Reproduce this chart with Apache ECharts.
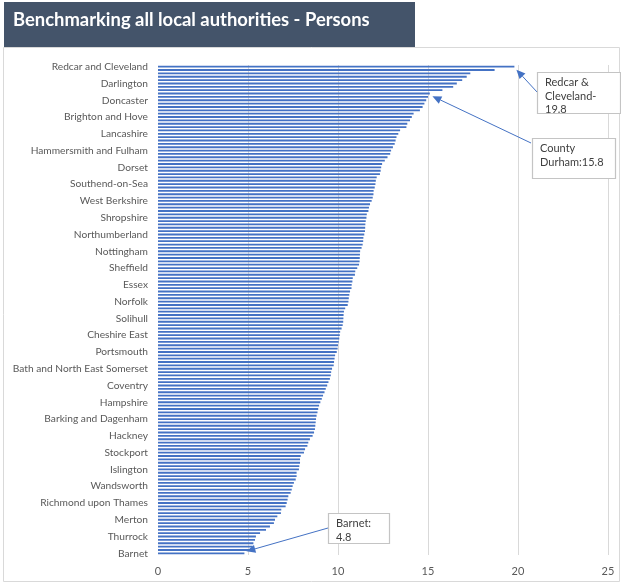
<!DOCTYPE html>
<html>
<head>
<meta charset="utf-8">
<script src="https://cdn.jsdelivr.net/npm/echarts@6/dist/echarts.min.js"></script>
<style>
  html, body { margin: 0; padding: 0; background: #ffffff; }
  #chart { width: 621px; height: 583px; }
</style>
</head>
<body>
<div id="chart"></div>
<script>
// Authorities whose names appear on the axis (every fifth rank, highest first)
const labelledAuthorities = [
  'Redcar and Cleveland', 'Darlington', 'Doncaster', 'Brighton and Hove', 'Lancashire',
  'Hammersmith and Fulham', 'Dorset', 'Southend-on-Sea', 'West Berkshire', 'Shropshire',
  'Northumberland', 'Nottingham', 'Sheffield', 'Essex', 'Norfolk',
  'Solihull', 'Cheshire East', 'Portsmouth', 'Bath and North East Somerset', 'Coventry',
  'Hampshire', 'Barking and Dagenham', 'Hackney', 'Stockport', 'Islington',
  'Wandsworth', 'Richmond upon Thames', 'Merton', 'Thurrock', 'Barnet'
];
const labelEvery = 5;

// Rate per authority, ranked from highest to lowest
const rates = [
  19.8, 18.7, 17.35, 17.15, 16.9, 16.6, 16.4, 15.8, 15.1, 15.0,
  14.9, 14.8, 14.7, 14.55, 14.2, 14.1, 14.0, 13.85, 13.8, 13.45,
  13.35, 13.25, 13.2, 13.15, 13.05, 12.95, 12.9, 12.75, 12.6, 12.45,
  12.4, 12.37, 12.33, 12.15, 12.1, 12.08, 12.04, 11.98, 11.97, 11.93,
  11.87, 11.78, 11.72, 11.69, 11.6, 11.58, 11.54, 11.52, 11.51, 11.5,
  11.46, 11.41, 11.4, 11.37, 11.31, 11.23, 11.22, 11.21, 11.2, 11.17,
  11.07, 10.96, 10.94, 10.82, 10.8, 10.76, 10.75, 10.67, 10.63, 10.6,
  10.58, 10.54, 10.4, 10.33, 10.31, 10.3, 10.29, 10.26, 10.2, 10.12,
  10.1, 10.07, 10.04, 10.0, 9.98, 9.93, 9.84, 9.81, 9.78, 9.76,
  9.67, 9.62, 9.6, 9.55, 9.47, 9.4, 9.32, 9.25, 9.17, 9.1,
  9.02, 8.95, 8.9, 8.86, 8.81, 8.78, 8.76, 8.74, 8.72, 8.67,
  8.59, 8.44, 8.35, 8.3, 8.17, 8.11, 7.93, 7.89, 7.89, 7.85,
  7.83, 7.7, 7.7, 7.65, 7.55, 7.48, 7.43, 7.37, 7.24, 7.2,
  7.15, 7.09, 6.85, 6.83, 6.63, 6.5, 6.44, 6.22, 6.0, 5.67,
  5.44, 5.39, 5.3, 5.26, 5.2, 4.8
];

// Value axis ticks
const xTicks = [0, 5, 10, 15, 20, 25];

// Callouts: text lines and the ranked authority they point at
const callouts = [
  { lines: ['Redcar &', 'Cleveland-', '19.8'], rank: 0,   box: [537, 72, 83, 41],  from: [537, 92],  nudge: [2, 3] },
  { lines: ['County', 'Durham:15.8'],          rank: 7,   box: [532, 138, 83, 40], from: [531, 143], nudge: [-10, 6] },
  { lines: ['Barnet:', '4.8'],                 rank: 145, box: [328, 513, 61, 30], from: [328, 528], nudge: [2, -2] }
];

const categories = rates.map((_, i) =>
  i % labelEvery === 0 ? labelledAuthorities[i / labelEvery] : ''
);

const FONT = 'Lato';
const chart = echarts.init(document.getElementById('chart'), null, { renderer: 'canvas' });

const option = {
  backgroundColor: '#ffffff',
  animation: false,
  grid: { left: 158, right: 13, top: 65, bottom: 28, containLabel: false },
  xAxis: {
    type: 'value',
    min: xTicks[0],
    max: xTicks[xTicks.length - 1],
    interval: xTicks[1] - xTicks[0],
    axisLine: { show: false },
    axisTick: { show: false },
    axisLabel: { color: '#595959', fontFamily: FONT, fontSize: 11, margin: 11 },
    splitLine: { show: true, showMinLine: false, lineStyle: { color: '#d9d9d9', width: 1 } }
  },
  yAxis: {
    type: 'category',
    inverse: true,
    data: categories,
    axisLine: { show: false },
    axisTick: { show: false },
    axisLabel: {
      interval: labelEvery - 1,
      color: '#595959',
      fontFamily: FONT,
      fontSize: 10.2,
      margin: 10
    }
  },
  series: [{
    type: 'bar',
    data: rates,
    barCategoryGap: '45%',
    itemStyle: { color: '#4472C4' },
    silent: true
  }]
};
chart.setOption(option);

// Frame and title banner
const graphics = [
  {
    type: 'rect', silent: true, z: 0,
    shape: { x: 3.5, y: 47.5, width: 616, height: 534 },
    style: { fill: null, stroke: '#d9d9d9', lineWidth: 1 }
  },
  {
    type: 'rect', silent: true, z: 10,
    shape: { x: 4, y: 2, width: 411, height: 45 },
    style: { fill: '#44546A' }
  },
  {
    type: 'text', silent: true, z: 11,
    x: 13, y: 20,
    style: {
      text: 'Benchmarking all local authorities - Persons',
      fill: '#ffffff',
      font: 'bold 18.4px ' + FONT,
      textVerticalAlign: 'middle'
    }
  }
];

// Callout boxes with arrows to the bar ends
callouts.forEach(c => {
  const end = chart.convertToPixel({ gridIndex: 0 }, [rates[c.rank], c.rank]);
  const tip = [end[0] + c.nudge[0], end[1] + c.nudge[1]];
  const [fx, fy] = c.from;
  const ang = Math.atan2(tip[1] - fy, tip[0] - fx);
  const len = 9, half = 4;
  const base = [tip[0] - len * Math.cos(ang), tip[1] - len * Math.sin(ang)];
  const perp = [-Math.sin(ang) * half, Math.cos(ang) * half];

  graphics.push({
    type: 'line', silent: true, z: 20,
    shape: { x1: fx, y1: fy, x2: base[0], y2: base[1] },
    style: { stroke: '#4472C4', lineWidth: 1 }
  });
  graphics.push({
    type: 'polygon', silent: true, z: 20,
    shape: { points: [tip, [base[0] + perp[0], base[1] + perp[1]], [base[0] - perp[0], base[1] - perp[1]]] },
    style: { fill: '#4472C4' }
  });
  const [bx, by, bw, bh] = c.box;
  graphics.push({
    type: 'rect', silent: true, z: 21,
    shape: { x: bx + 0.5, y: by + 0.5, width: bw, height: bh },
    style: { fill: '#ffffff', stroke: '#c4c4c4', lineWidth: 1.2 }
  });
  c.lines.forEach((t, k) => {
    graphics.push({
      type: 'text', silent: true, z: 22,
      x: bx + 8, y: by + 10.5 + k * 13.7,
      style: { text: t, fill: '#404040', font: '11px ' + FONT, textVerticalAlign: 'middle' }
    });
  });
});

chart.setOption({ graphic: graphics });
</script>
</body>
</html>
